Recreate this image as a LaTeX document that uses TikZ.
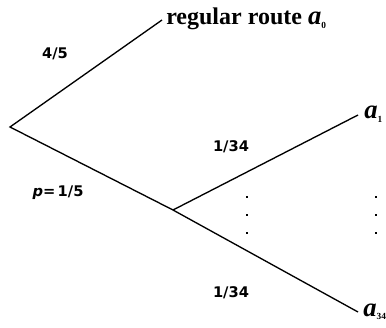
\documentclass[tikz,border=0pt]{standalone}
\usepackage{fontspec}
\setmainfont{Liberation Serif}
\newfontfamily\labfont{DejaVu Sans}
\newcommand{\routesym}[1]{{\bfseries\itshape\fontsize{20}{22}\selectfont a}\raisebox{-0.3ex}{\fontsize{7}{8}\selectfont\bfseries #1}}
\tikzset{
  prob/.style={font=\labfont\bfseries\fontsize{11}{12}\selectfont, inner sep=0pt},
  route/.style={font=\bfseries\fontsize{18}{20}\selectfont, inner sep=0pt, anchor=base west},
  branch/.style={line width=1pt},
  vdot/.style={fill, inner sep=0pt, minimum size=2pt}
}

\begin{document}
\begin{tikzpicture}[x=0.75pt,y=-0.75pt]
            \useasboundingbox (0,0) rectangle (386,328);
            % tree points
            \coordinate (root) at (10,127);
            \coordinate (mid) at (173,210);
            \coordinate (end0) at (162,20);
            \coordinate (end1) at (358,115);
            \coordinate (end34) at (358,312);
            \draw[branch] (end0)--(root)--(mid)--(end34);
            \draw[branch] (mid)--(end1);
            % outcomes
            \node[route] (a0) at (166,25) {regular route \routesym{0}};
            \node[route] (a1) at (364,119) {\routesym{1}};
            \node[route] (a34) at (363,316) {\routesym{34}};
            % probabilities
            \node[prob] (p0) at (55,54) {4/5};
            \node[prob] (p1) at (58,193) {\textit{p}=\,1/5};
            \node[prob] (q1) at (231,147) {1/34};
            \node[prob] (q34) at (231,293) {1/34};
            \foreach \y in {197,215,233}{
                \node[vdot] (dl\y) at (247,\y) {};
                \node[vdot] (dr\y) at (376,\y) {};
            }
        \end{tikzpicture}
\end{document}
